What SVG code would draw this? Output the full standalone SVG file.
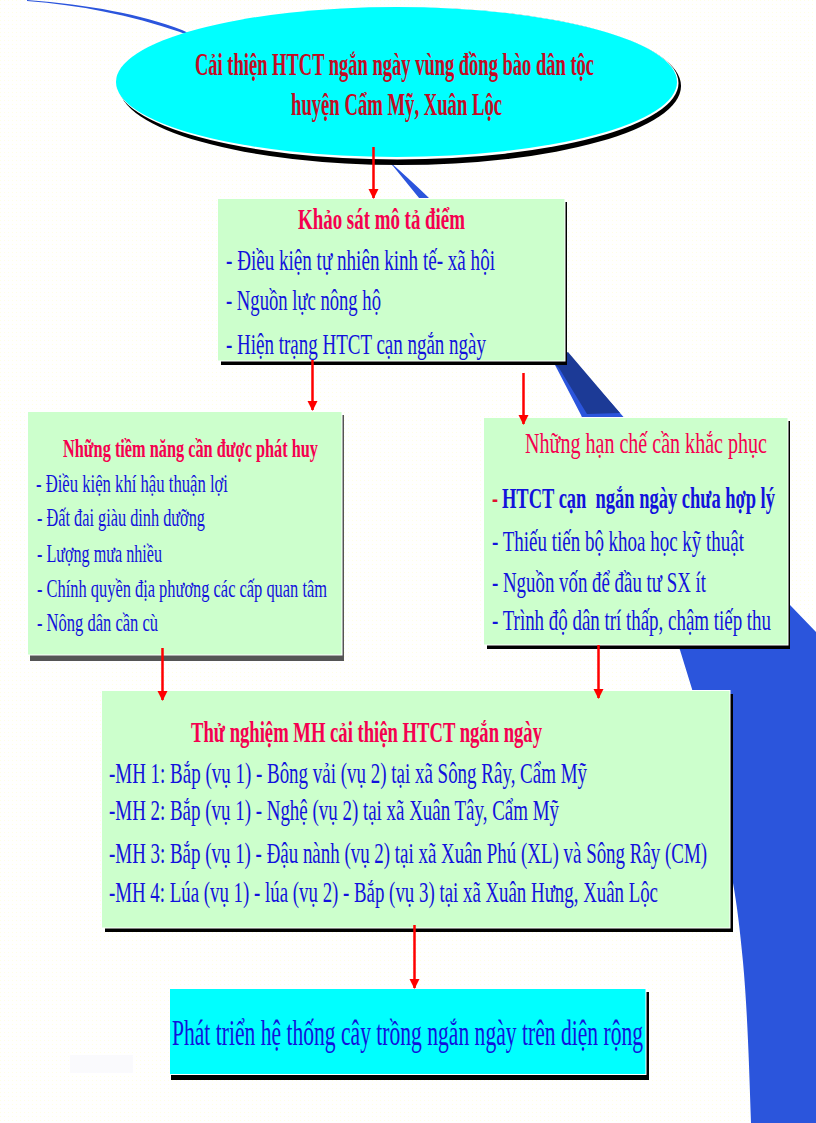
<svg xmlns="http://www.w3.org/2000/svg" width="816" height="1123" viewBox="0 0 816 1123">
<style>
text{font-family:"Liberation Serif","Noto Sans",serif}
.b{fill:#1212dc}
.t{fill:#f5004f;font-weight:bold}
.d{fill:#c40a24;font-weight:bold;font-size:32px}
.box{fill:#ccffcc;stroke:#fff;stroke-width:1}
.cy{fill:#00ffff;stroke:#fff;stroke-width:1}
.sh{fill:#000}
.cn line{stroke:#ff0000;stroke-width:2.5;marker-end:url(#ah)}
</style>
<defs>
<marker id="ah" markerUnits="userSpaceOnUse" markerWidth="10" markerHeight="14" refX="9" refY="5" orient="auto" viewBox="0 0 10 10"><path d="M0,0L10,5L0,10Z" fill="#ff0000"/></marker>
<pattern id="dots" width="4" height="4" patternUnits="userSpaceOnUse"><rect x="0" y="0" width="1" height="1" fill="#ffffe4"/></pattern>
</defs>
<rect width="816" height="1123" fill="#fff"/>
<rect width="816" height="1123" fill="url(#dots)"/>
<rect x="70" y="1055" width="63" height="18" fill="#fafafd"/>
<g id="swoosh">
<path d="M27,0C90,5 140,14 182,30C280,75 360,130 428,197L620,413L790,605L816,632V1123H751C749,1060 747,1005 743,962C740,930 737,905 733,883L692,689L680,650L581,415L555,365L393,166C320,100 250,60 180,32C130,15 80,5 27,1Z" fill="#2b55dc"/>
<path d="M568,352L620,413L587,414L559,368L550,360Z" fill="#1c3a96"/>
</g>
<g id="n-goal">
<ellipse class="sh" cx="400" cy="86" rx="281" ry="79"/>
<ellipse cx="397.500" cy="83" rx="281" ry="76.500" fill="#fff"/>
<ellipse cx="396.500" cy="82" rx="280.500" ry="75" fill="#00ffff"/>
<text class="d" transform="translate(195,75) scale(.6,1)" textLength="665" lengthAdjust="spacingAndGlyphs">Cải thiện HTCT ngắn ngày vùng đồng bào dân tộc</text>
<text class="d" transform="translate(291,115) scale(.6,1)" textLength="351.700" lengthAdjust="spacingAndGlyphs">huyện Cẩm Mỹ, Xuân Lộc</text>
</g>
<g id="n-survey">
<rect class="sh" x="221" y="202" width="346" height="163"/>
<rect class="box" x="217.500" y="198.500" width="347.500" height="162.500"/>
<text class="t" font-size="30" transform="translate(298,229) scale(.6,1)" textLength="278.300" lengthAdjust="spacingAndGlyphs">Khảo sát mô tả điểm</text>
<text class="b" font-size="30" transform="translate(226,270) scale(.6,1)" textLength="448.300" lengthAdjust="spacingAndGlyphs">- Điều kiện tự nhiên kinh tế- xã hội</text>
<text class="b" font-size="30" transform="translate(226,310) scale(.6,1)" textLength="258.300" lengthAdjust="spacingAndGlyphs">- Nguồn lực nông hộ</text>
<text class="b" font-size="30" transform="translate(226,354) scale(.6,1)" textLength="433.300" lengthAdjust="spacingAndGlyphs">- Hiện trạng HTCT cạn ngắn ngày</text>
</g>
<g id="n-potential">
<rect x="30" y="415" width="314" height="246" fill="#555"/>
<rect class="box" x="27.500" y="411.500" width="314.500" height="243.500"/>
<text class="t" font-size="26" transform="translate(63,457) scale(.6,1)" textLength="425" lengthAdjust="spacingAndGlyphs">Những tiềm năng cần được phát huy</text>
<text class="b" font-size="26" transform="translate(36,492) scale(.6,1)" textLength="320" lengthAdjust="spacingAndGlyphs">- Điều kiện khí hậu thuận lợi</text>
<text class="b" font-size="26" transform="translate(37,526) scale(.6,1)" textLength="280" lengthAdjust="spacingAndGlyphs">- Đất đai giàu dinh dưỡng</text>
<text class="b" font-size="26" transform="translate(37,562) scale(.6,1)" textLength="208.300" lengthAdjust="spacingAndGlyphs">- Lượng mưa nhiều</text>
<text class="b" font-size="26" transform="translate(37,597) scale(.6,1)" textLength="483.300" lengthAdjust="spacingAndGlyphs">- Chính quyền địa phương các cấp quan tâm</text>
<text class="b" font-size="26" transform="translate(37,631) scale(.6,1)" textLength="201.700" lengthAdjust="spacingAndGlyphs">- Nông dân cần cù</text>
</g>
<g id="n-limits">
<rect class="sh" x="487" y="421" width="303" height="228"/>
<rect class="box" x="483.500" y="417.500" width="304.500" height="227.500"/>
<text font-size="30" fill="#f5004f" transform="translate(525,453) scale(.6,1)" textLength="403.300" lengthAdjust="spacingAndGlyphs">Những hạn chế cần khắc phục</text>
<text font-size="30" fill="#e01030" font-weight="bold" transform="translate(492,508) scale(.6,1)">-</text>
<text font-size="30" fill="#1212dc" font-weight="bold" transform="translate(502,508) scale(.6,1)" textLength="455" lengthAdjust="spacingAndGlyphs" xml:space="preserve">HTCT cạn  ngắn ngày chưa hợp lý</text>
<text class="b" font-size="30" transform="translate(492,551) scale(.6,1)" textLength="420" lengthAdjust="spacingAndGlyphs">- Thiếu tiến bộ khoa học kỹ thuật</text>
<text class="b" font-size="30" transform="translate(492,592) scale(.6,1)" textLength="356.700" lengthAdjust="spacingAndGlyphs">- Nguồn vốn để đầu tư SX ít</text>
<text class="b" font-size="30" transform="translate(492,630) scale(.6,1)" textLength="465" lengthAdjust="spacingAndGlyphs">- Trình độ dân trí thấp, chậm tiếp thu</text>
</g>
<g id="n-trial">
<rect class="sh" x="105" y="694" width="628" height="238"/>
<rect class="box" x="101.500" y="690.500" width="628.500" height="237.500"/>
<text class="t" font-size="30" transform="translate(191,742) scale(.6,1)" textLength="585" lengthAdjust="spacingAndGlyphs">Thử nghiệm MH cải thiện HTCT ngắn ngày</text>
<text class="b" font-size="30" transform="translate(109,783) scale(.6,1)" textLength="796.700" lengthAdjust="spacingAndGlyphs">-MH 1: Bắp (vụ 1) - Bông vải (vụ 2) tại xã Sông Rây, Cẩm Mỹ</text>
<text class="b" font-size="30" transform="translate(109,820) scale(.6,1)" textLength="750" lengthAdjust="spacingAndGlyphs">-MH 2: Bắp (vụ 1) - Nghệ (vụ 2) tại xã Xuân Tây, Cẩm Mỹ</text>
<text class="b" font-size="30" transform="translate(109,863) scale(.6,1)" textLength="996.700" lengthAdjust="spacingAndGlyphs">-MH 3: Bắp (vụ 1) - Đậu nành (vụ 2) tại xã Xuân Phú (XL) và Sông Rây (CM)</text>
<text class="b" font-size="30" transform="translate(109,902) scale(.6,1)" textLength="915" lengthAdjust="spacingAndGlyphs">-MH 4: Lúa (vụ 1) - lúa (vụ 2) - Bắp (vụ 3) tại xã Xuân Hưng, Xuân Lộc</text>
</g>
<g id="n-develop">
<rect class="sh" x="171" y="992" width="478" height="88"/>
<rect class="cy" x="169.500" y="988.500" width="476.500" height="86"/>
<text class="b" font-size="36" transform="translate(172,1045) scale(.6,1)" textLength="785" lengthAdjust="spacingAndGlyphs">Phát triển hệ thống cây trồng ngắn ngày trên diện rộng</text>
</g>
<g id="connectors" class="cn">
<line x1="373.500" y1="147" x2="373.500" y2="198"/>
<line x1="312.500" y1="360" x2="312.500" y2="410"/>
<line x1="523.500" y1="373" x2="523.500" y2="424"/>
<line x1="162.500" y1="648" x2="162.500" y2="700"/>
<line x1="598.500" y1="645" x2="598.500" y2="698"/>
<line x1="414.500" y1="925" x2="414.500" y2="988"/>
</g>
</svg>
